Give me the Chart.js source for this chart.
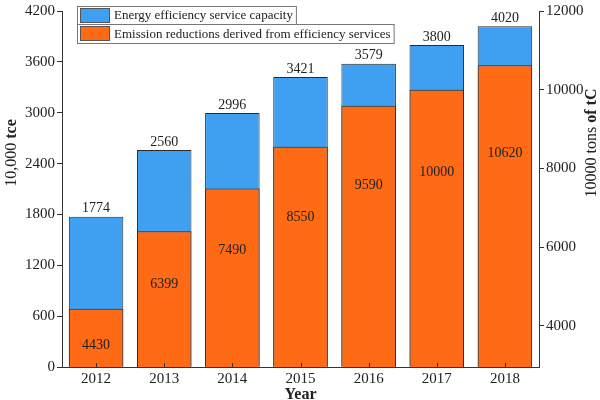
<!DOCTYPE html>
<html>
<head>
<meta charset="utf-8">
<script src="https://cdn.jsdelivr.net/npm/chart.js@4.4.0/dist/chart.umd.min.js"></script>
<style>
html, body { margin: 0; padding: 0; background: #fff; }
#wrap { width: 600px; height: 400px; }
</style>
</head>
<body>
<div id="wrap"><canvas id="myChart"></canvas></div>
<script>
var years = ["2012", "2013", "2014", "2015", "2016", "2017", "2018"];
var capacity = [1774, 2560, 2996, 3421, 3579, 3800, 4020];
var reductions = [4430, 6399, 7490, 8550, 9590, 10000, 10620];
var leftTicks = [0, 600, 1200, 1800, 2400, 3000, 3600, 4200];
var rightTicks = [4000, 6000, 8000, 10000, 12000];

var SERIF = "'Liberation Serif', 'DejaVu Serif', serif";
var INK = "#222";

// draws a rotated title with a normal part and a bold part
function sideTitle(ctx, cx, cy, plain, bold) {
  ctx.save();
  ctx.translate(cx, cy);
  ctx.rotate(-Math.PI / 2);
  ctx.font = "16px " + SERIF;
  var w1 = ctx.measureText(plain).width;
  ctx.font = "bold 16px " + SERIF;
  var w2 = ctx.measureText(bold).width;
  var x0 = -(w1 + w2) / 2;
  ctx.textAlign = "left";
  ctx.textBaseline = "middle";
  ctx.fillStyle = INK;
  ctx.font = "16px " + SERIF;
  ctx.fillText(plain, x0, 0);
  ctx.font = "bold 16px " + SERIF;
  ctx.fillText(bold, x0 + w1, 0);
  ctx.restore();
}

var extras = {
  id: "extras",
  afterDatasetsDraw: function(chart) {
    var ctx = chart.ctx;
    var x = chart.scales.x, y = chart.scales.y, y1 = chart.scales.y1;
    ctx.save();

    // small inward ticks on the year axis
    ctx.strokeStyle = "#333";
    ctx.lineWidth = 1;
    years.forEach(function(_, i) {
      var px = Math.round(x.getPixelForValue(i)) + 0.5;
      ctx.beginPath();
      ctx.moveTo(px, y.bottom);
      ctx.lineTo(px, y.bottom - 4);
      ctx.stroke();
    });

    // value labels
    ctx.font = "14px " + SERIF;
    ctx.textAlign = "center";
    ctx.fillStyle = INK;
    ctx.textBaseline = "bottom";
    capacity.forEach(function(v, i) {
      ctx.fillText(String(v), x.getPixelForValue(i), y.getPixelForValue(v) - 1);
    });
    ctx.textBaseline = "middle";
    reductions.forEach(function(v, i) {
      ctx.fillText(String(v), x.getPixelForValue(i), y1.getPixelForValue(v * 0.79));
    });

    // legend
    var rowTop = [6, 24];
    var rowH = [18, 19];
    ctx.font = "13px " + SERIF;
    ctx.textAlign = "left";
    chart.data.datasets.forEach(function(ds, i) {
      var top = rowTop[i];
      var tw = ctx.measureText(ds.label).width;
      ctx.fillStyle = "#fff";
      ctx.fillRect(77.5, top + 0.5, tw + 40, rowH[i]);
      ctx.strokeStyle = "#777";
      ctx.strokeRect(77.5, top + 0.5, tw + 40, rowH[i]);
      ctx.fillStyle = ds.backgroundColor;
      ctx.fillRect(80, top + 2, 30, 15);
      ctx.strokeStyle = "#555";
      ctx.strokeRect(80.5, top + 2.5, 29, 14);
      ctx.fillStyle = INK;
      ctx.textBaseline = "middle";
      ctx.fillText(ds.label, 114, top + rowH[i] / 2 + 1);
    });

    // axis titles
    sideTitle(ctx, 12, 153, "10,000 ", "tce");
    sideTitle(ctx, 592, 143, "10000 tons ", "of tC");
    ctx.font = "bold 16px " + SERIF;
    ctx.textAlign = "center";
    ctx.textBaseline = "middle";
    ctx.fillStyle = INK;
    ctx.fillText("Year", (x.left + x.right) / 2, 395);

    ctx.restore();
  }
};

function plainTick(v) { return String(v); }

new Chart("myChart", {
  type: "bar",
  data: {
    labels: years,
    datasets: [{
      label: "Energy efficiency service capacity",
      data: capacity,
      yAxisID: "y",
      backgroundColor: "#3f9ff0",
      borderColor: "#2a2a2a",
      borderWidth: 1,
      order: 2
    }, {
      label: "Emission reductions derived from efficiency services",
      data: reductions,
      yAxisID: "y1",
      backgroundColor: "#ff6a14",
      borderColor: "#2a2a2a",
      borderWidth: 1,
      order: 1
    }]
  },
  options: {
    responsive: true,
    maintainAspectRatio: false,
    animation: false,
    layout: { padding: { top: 5, left: 0, right: 0, bottom: 0 } },
    datasets: { bar: { barPercentage: 0.8, categoryPercentage: 1.0 } },
    plugins: { legend: { display: false }, tooltip: { enabled: false } },
    scales: {
      x: {
        stacked: true,
        grid: { display: false, drawTicks: false },
        border: { display: true, color: "#333" },
        ticks: { color: INK, font: { family: SERIF, size: 15 }, padding: 3 },
        afterFit: function(s) { s.height = 33; }
      },
      y: {
        position: "left",
        min: 0,
        max: 4200,
        afterBuildTicks: function(s) { s.ticks = leftTicks.map(function(v) { return { value: v }; }); },
        grid: { drawOnChartArea: false, drawTicks: true, tickLength: 5, color: "#333" },
        border: { display: true, color: "#333" },
        ticks: { color: INK, font: { family: SERIF, size: 15 }, padding: 2, callback: plainTick },
        afterFit: function(s) { s.width = 62; }
      },
      y1: {
        position: "right",
        min: 2950,
        max: 12000,
        afterBuildTicks: function(s) { s.ticks = rightTicks.map(function(v) { return { value: v }; }); },
        grid: { drawOnChartArea: false, drawTicks: true, tickLength: 5, color: "#333" },
        border: { display: true, color: "#333" },
        ticks: { color: INK, font: { family: SERIF, size: 15 }, padding: 2, callback: plainTick },
        afterFit: function(s) { s.width = 61; }
      }
    }
  },
  plugins: [extras]
});
</script>
</body>
</html>
